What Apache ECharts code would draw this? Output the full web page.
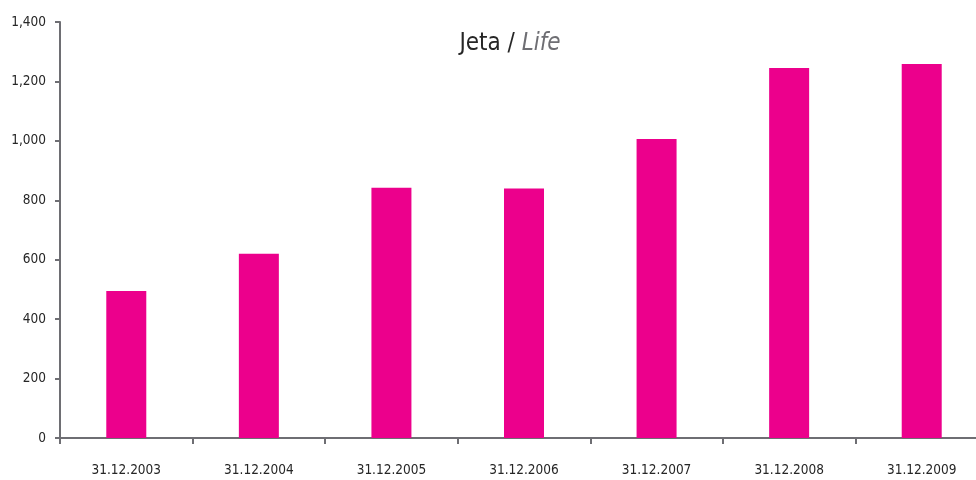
<!DOCTYPE html>
<html>
<head>
<meta charset="utf-8">
<script src="https://cdn.jsdelivr.net/npm/echarts@6/dist/echarts.min.js"></script>
<style>
  html, body { margin: 0; padding: 0; background: #fff; }
  #chart { width: 976px; height: 480px; }
</style>
</head>
<body>
<div id="chart"></div>
<script>
const categories = ['31.12.2003', '31.12.2004', '31.12.2005', '31.12.2006', '31.12.2007', '31.12.2008', '31.12.2009'];
const values = [495, 620, 842, 840, 1006, 1245, 1259];

const font = '"Liberation Sans Narrow", "DejaVu Sans Condensed", "Open Sans", sans-serif';
const axisGray = '#6e6e73';

const chart = echarts.init(document.getElementById('chart'));
chart.setOption({
  animation: false,
  title: {
    text: '{a|Jeta / }{b|Life}',
    left: 505,
    textAlign: 'center',
    top: 27,
    textStyle: {
      fontWeight: 'normal',
      rich: {
        a: { fontFamily: font, fontSize: 24, fontWeight: 'normal', color: '#262626' },
        b: { fontFamily: font, fontSize: 24, fontWeight: 'normal', color: '#6e6e73', fontStyle: 'italic' }
      }
    }
  },
  grid: {
    left: 60,
    width: 928,
    top: 22,
    bottom: 42,
    outerBoundsMode: 'none'
  },
  xAxis: {
    type: 'category',
    data: categories,
    axisLine: { lineStyle: { color: axisGray, width: 2 } },
    axisTick: { show: true, length: 6, lineStyle: { color: axisGray, width: 2 } },
    axisLabel: { fontFamily: font, fontSize: 13.5, color: '#262626', margin: 25 }
  },
  yAxis: {
    type: 'value',
    min: 0,
    max: 1400,
    interval: 200,
    axisLine: { show: true, lineStyle: { color: axisGray, width: 2 } },
    axisTick: { show: true, length: 5, lineStyle: { color: axisGray, width: 2 } },
    splitLine: { show: false },
    axisLabel: {
      fontFamily: font,
      fontSize: 13.5,
      color: '#262626',
      margin: 14,
      formatter: (v) => v.toLocaleString('en-US')
    }
  },
  series: [{
    type: 'bar',
    data: values,
    barWidth: 40,
    itemStyle: { color: '#ec008c' }
  }]
});
</script>
</body>
</html>
